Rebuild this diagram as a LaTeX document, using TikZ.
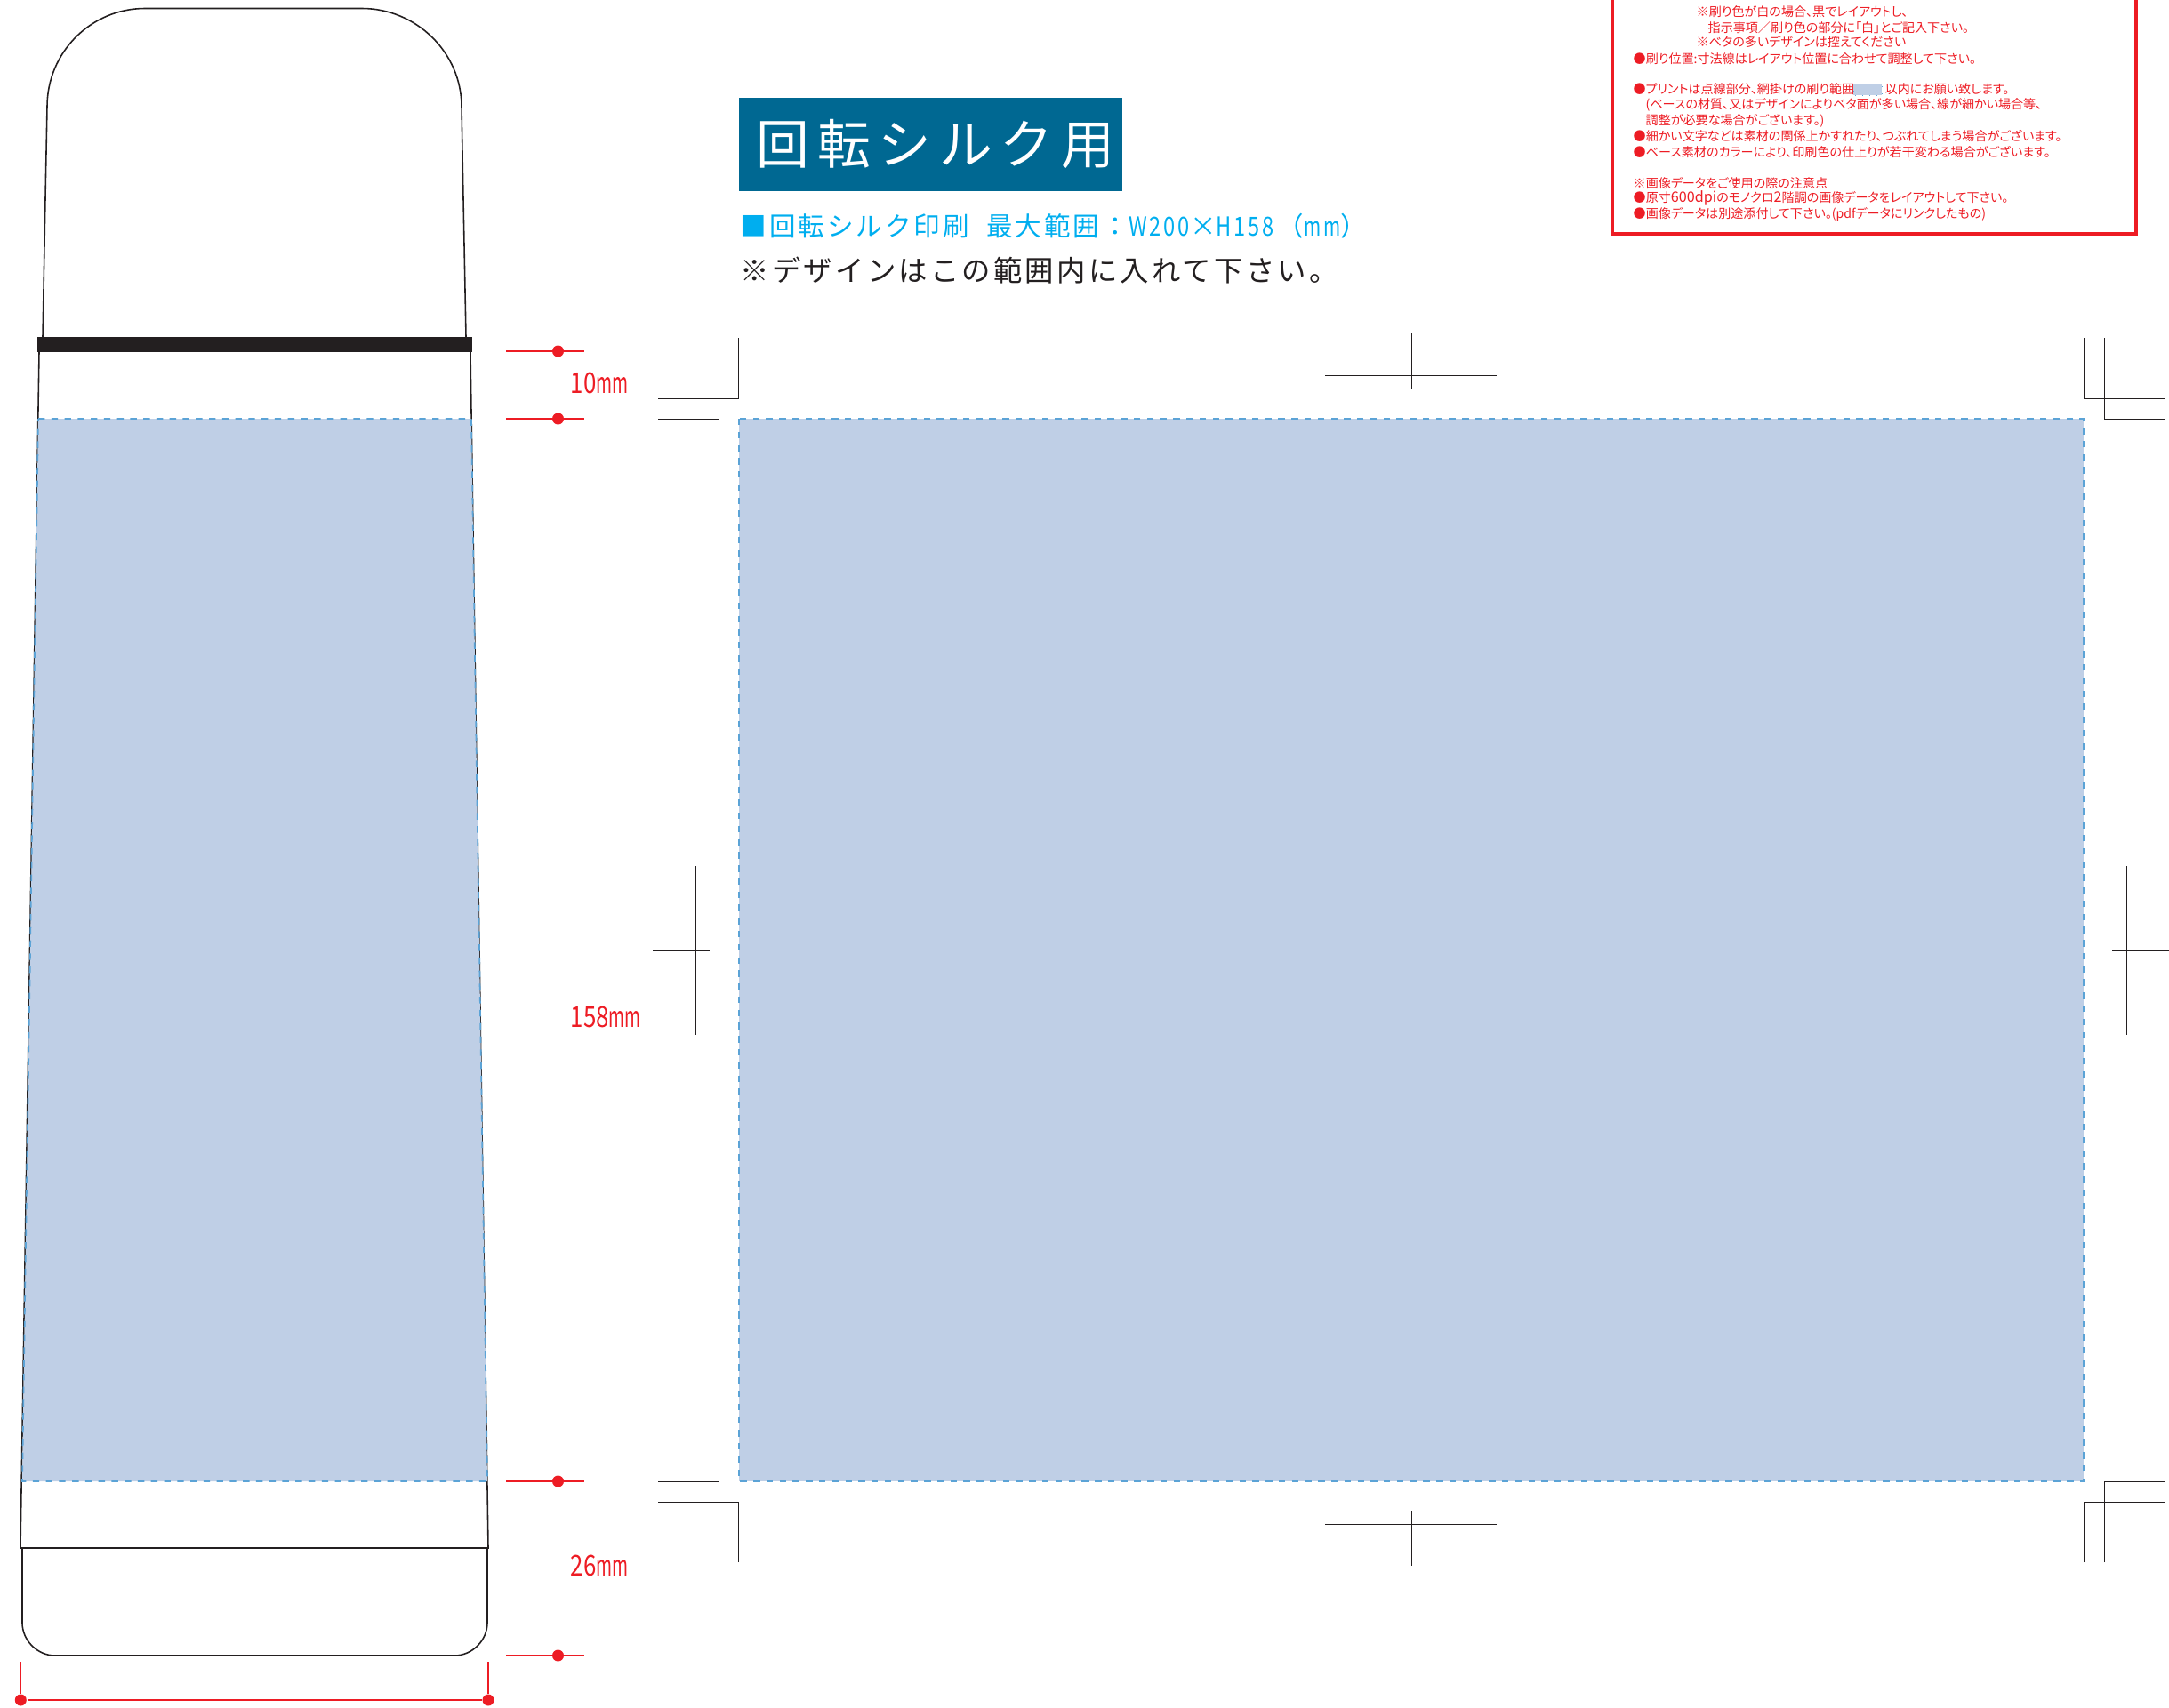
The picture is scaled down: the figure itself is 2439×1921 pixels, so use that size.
\documentclass[tikz,border=0pt]{standalone}
\usepackage{fontspec}
\setmainfont{Noto Sans CJK JP}
\newfontfamily\notefont[RawFeature=+palt]{Noto Sans CJK JP}
\newfontfamily\dimfont[FakeStretch=.8]{Noto Sans CJK JP}
\newfontfamily\dimunitfont[FakeStretch=.6]{Noto Sans CJK JP}

\definecolor{silkred}{HTML}{ED1C24}
\definecolor{silkfill}{HTML}{BFCFE6}
\definecolor{silkdash}{HTML}{5BA3D6}
\definecolor{silkteal}{HTML}{006892}
\definecolor{silkcyan}{HTML}{00AEEF}
\definecolor{silkblack}{HTML}{231F20}

\tikzset{
  outline/.style={draw=silkblack,line width=.45pt},
  printarea/.style={fill=silkfill,draw=silkdash,line width=.5pt,dash pattern=on 2.1pt off 2.1pt},
  cropline/.style={draw=silkblack,line width=.22pt},
  dimline/.style={draw=silkred,line width=.5pt},
  dimdot/.style={circle,fill=silkred,inner sep=0pt,minimum size=.13cm},
  dimlabel/.style={anchor=west,inner sep=0pt,text=silkred,font=\dimfont\fontsize{9.2}{11}\selectfont},
  note/.style={anchor=west,inner sep=0pt,text=silkred,font=\notefont\fontsize{4}{5}\selectfont},
}

\begin{document}
\begin{tikzpicture}[x=.01cm,y=-.01cm]
  \useasboundingbox (0,0) rectangle (2439,1921);

  %% bottle
  \draw[outline] (48,379) -- (53,120) .. controls (53,59) and (102,9.5) .. (163,9.5)
    -- (407,9.5) .. controls (468,9.5) and (519,59) .. (519,120) -- (524,379);
  \fill[silkblack] (42,379) rectangle (531,396);
  \draw[outline] (44,396) -- (23,1741) -- (549,1741) -- (529,396);
  \draw[outline] (25,1741) -- (25,1825) .. controls (25,1845) and (42,1862) .. (62,1862)
    -- (511,1862) .. controls (531,1862) and (548,1845) .. (548,1825) -- (548,1741);
  \draw[printarea] (43,471) -- (530,471) -- (548,1666) -- (25,1666) -- cycle;

  %% flat print area
  \draw[printarea] (831,471) rectangle (2343,1666);

  %% height dimensions
  \node[dimdot] (h0) at (627.5,395) {};
  \node[dimdot] (h1) at (627.5,471) {};
  \node[dimdot] (h2) at (627.5,1666) {};
  \node[dimdot] (h3) at (627.5,1862) {};
  \draw[dimline] (h0) -- (h1) -- (h2) -- (h3);
  \foreach \y in {395,471,1666,1862}
    \draw[dimline] (569,\y) -- (657,\y);
  \node[dimlabel] (l10) at (641,431) {10\dimunitfont mm};
  \node[dimlabel] (l158) at (641,1144) {158\dimunitfont mm};
  \node[dimlabel] (l26) at (641,1761) {26\dimunitfont mm};

  %% width dimension
  \node[dimdot] (w0) at (23.3,1912) {};
  \node[dimdot] (w1) at (549,1912) {};
  \coordinate (w0top) at (23.3,1869);
  \coordinate (w1top) at (549,1869);
  \draw[dimline] (w0top) -- (w0) -- (w1) -- (w1top);

  %% crop marks, corners
  \draw[cropline] (808,380) -- (808,471) -- (740,471);
  \draw[cropline] (830.5,380) -- (830.5,448) -- (740,448);
  \draw[cropline] (2343,380) -- (2343,448) -- (2434,448);
  \draw[cropline] (2366,380) -- (2366,471) -- (2434,471);
  \draw[cropline] (808,1757) -- (808,1666) -- (740,1666);
  \draw[cropline] (830.5,1757) -- (830.5,1689) -- (740,1689);
  \draw[cropline] (2343,1757) -- (2343,1689) -- (2434,1689);
  \draw[cropline] (2366,1757) -- (2366,1666) -- (2434,1666);

  %% crop marks, centres
  \draw[cropline] (1490,422) -- (1683,422);
  \draw[cropline] (1587,375) -- (1587,437);
  \draw[cropline] (1490,1714) -- (1683,1714);
  \draw[cropline] (1587,1699) -- (1587,1761);
  \draw[cropline] (782,974) -- (782,1164);
  \draw[cropline] (734,1069) -- (798,1069);
  \draw[cropline] (2391,974) -- (2391,1164);
  \draw[cropline] (2375,1069) -- (2439,1069);

  %% headings
  \fill[silkteal] (831,110) rectangle (1262,215);
  \node[anchor=west,inner sep=0pt,text=white,font={\addfontfeature{LetterSpace=14.7}\fontsize{17}{19}\selectfont}] (title) at (850,162) {回転シルク用};
  \node[anchor=west,inner sep=0pt,text=silkcyan,font={\addfontfeature{LetterSpace=10}\fontsize{8.4}{10}\selectfont}] (range) at (832,254) {■回転シルク印刷\hspace{5.5pt}最大範囲\hspace{1pt}：{\addfontfeature{FakeStretch=.8}W200}×{\addfontfeature{FakeStretch=.8}H158}\hspace{1pt}（{\addfontfeature{FakeStretch=.7}mm}）};
  \node[anchor=west,inner sep=0pt,text=silkblack,font={\addfontfeature{LetterSpace=10}\fontsize{9.2}{11}\selectfont}] (hint) at (832,304) {※デザインはこの範囲内に入れて下さい。};

  %% red notes box
  \draw[draw=silkred,line width=1pt] (1813,-5) -- (1813,263) -- (2402,263) -- (2402,-5);
  \node[note] (n1) at (1907,13) {※刷り色が白の場合、黒でレイアウトし、};
  \node[note] (n2) at (1920,31) {指示事項／刷り色の部分に「白」とご記入下さい。};
  \node[note] (n3) at (1907,47) {※ベタの多いデザインは控えてください};
  \node[note] (n4) at (1836,66) {●刷り位置:寸法線はレイアウト位置に合わせて調整して下さい。};
  \node[note] (n5) at (1836,100) {●プリントは点線部分、網掛けの刷り範囲};
  \fill[silkfill] (2084,94) rectangle (2116,107);
  \draw[silkdash,line width=.2pt,dotted] (2084,94) rectangle (2116,107);
  \node[note] (n5b) at (2119,100) {以内にお願い致します。};
  \node[note] (n6) at (1850,118) {(ベースの材質、又はデザインによりベタ面が多い場合、線が細かい場合等、};
  \node[note] (n7) at (1850,136) {調整が必要な場合がございます。)};
  \node[note] (n8) at (1836,153) {●細かい文字などは素材の関係上かすれたり、つぶれてしまう場合がございます。};
  \node[note] (n9) at (1836,171) {●ベース素材のカラーにより、印刷色の仕上りが若干変わる場合がございます。};
  \node[note] (n10) at (1836,206) {※画像データをご使用の際の注意点};
  \node[note] (n11) at (1836,223) {●原寸{\fontsize{4.6}{5}\selectfont 600dpi}のモノクロ{\fontsize{4.6}{5}\selectfont 2}階調の画像データをレイアウトして下さい。};
  \node[note] (n12) at (1836,241) {●画像データは別途添付して下さい。(pdfデータにリンクしたもの)};
\end{tikzpicture}
\end{document}
